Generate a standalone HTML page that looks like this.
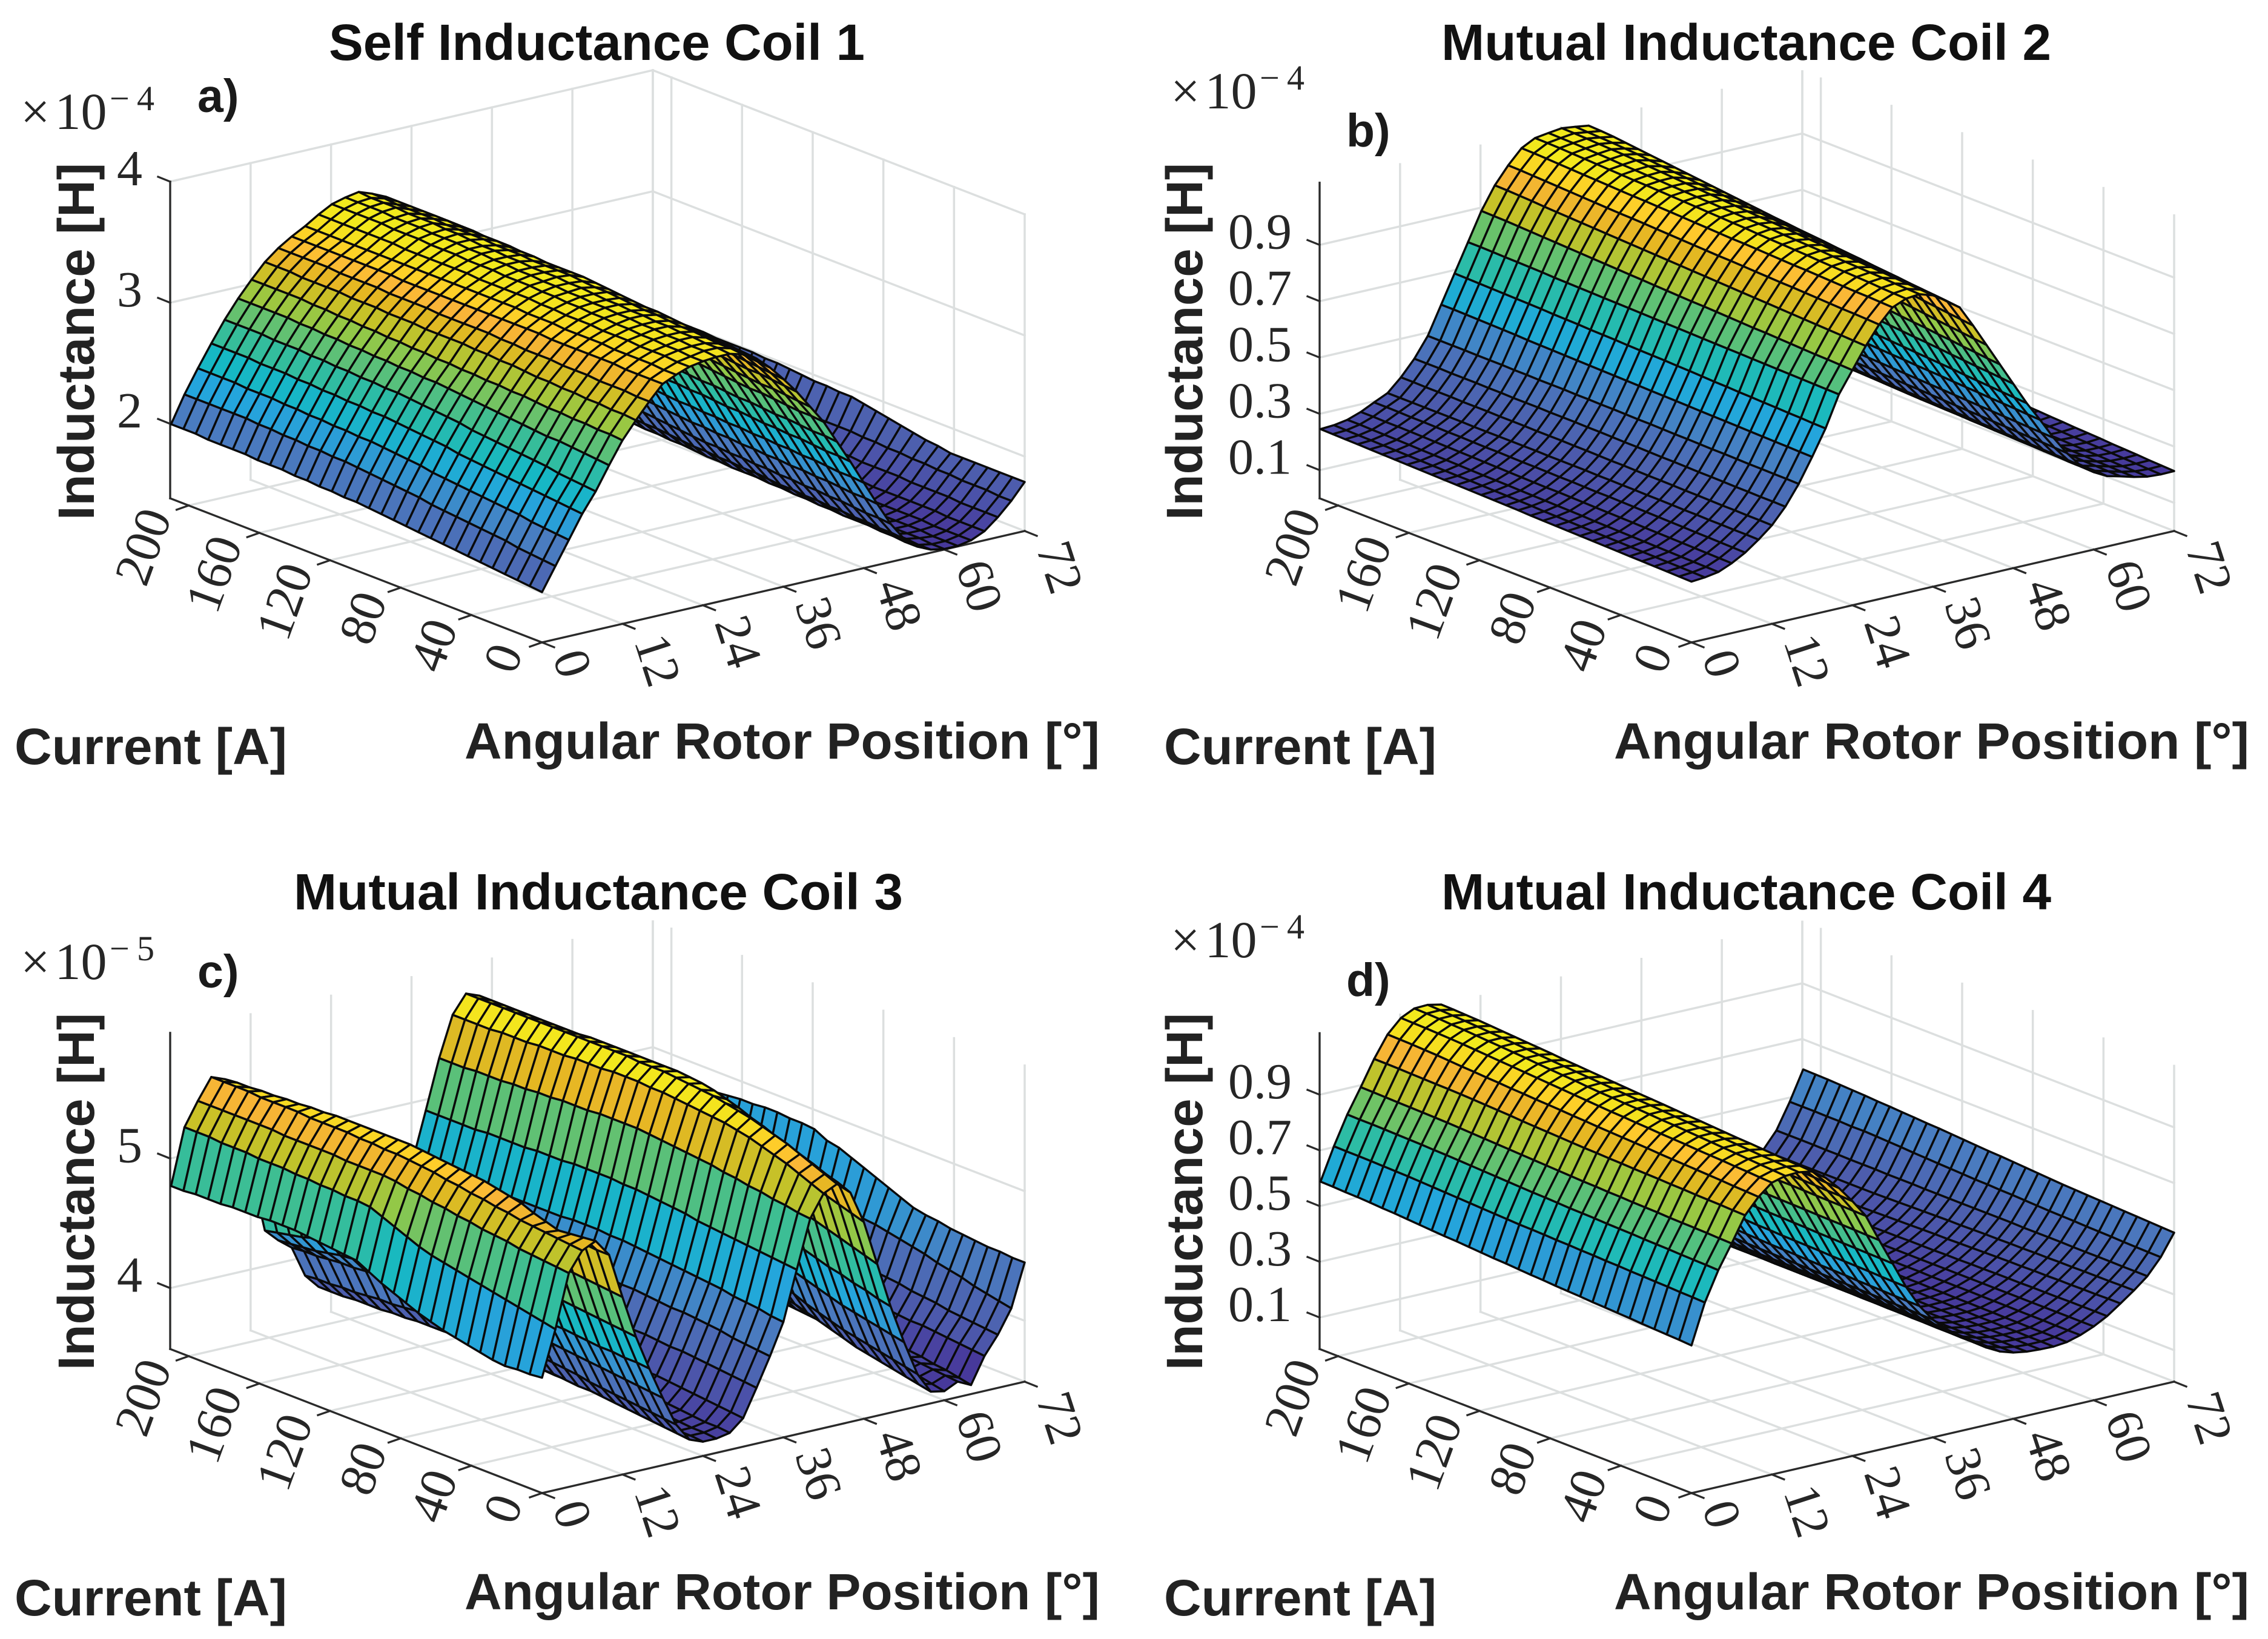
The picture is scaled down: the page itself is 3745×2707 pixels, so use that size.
<!DOCTYPE html>
<html lang="en">
<head>
<meta charset="utf-8">
<title>Inductance surfaces</title>
<style>
html,body{margin:0;padding:0;background:#fff}
svg{display:block}
.ttl{font-family:"Liberation Sans",sans-serif;font-weight:700;font-size:84px;fill:#111}
.lab{font-family:"Liberation Sans",sans-serif;font-weight:700;font-size:84px;fill:#222}
.tag{font-family:"Liberation Sans",sans-serif;font-weight:700;font-size:77px;fill:#1a1a1a}
.mag{font-family:"Liberation Serif",serif;font-size:86px;fill:#262626}
.exp{font-family:"Liberation Serif",serif;font-size:58px;fill:#262626}
.tick{font-family:"Liberation Serif",serif;font-size:84px;fill:#262626}
</style>
</head>
<body>
<svg id="fig" xmlns="http://www.w3.org/2000/svg" width="3745" height="2707" viewBox="0 0 3745 2707">
<rect x="0" y="0" width="3745" height="2707" fill="#ffffff"/>

<g id="panel-a">
<g class="plot"></g>
<text class="ttl" x="543" y="99" textLength="885" lengthAdjust="spacingAndGlyphs">Self Inductance Coil 1</text>
<text class="tag" x="326" y="185">a)</text>
<text class="mag" x="34" y="213">×<tspan dx="8">10</tspan></text>
<text class="exp" x="181" y="182" textLength="74">−4</text>
<text class="lab" transform="translate(155,859) rotate(-90)" textLength="590" lengthAdjust="spacingAndGlyphs">Inductance [H]</text>
<text class="lab" x="24" y="1262" textLength="450" lengthAdjust="spacingAndGlyphs">Current [A]</text>
<text class="lab" x="767" y="1253" textLength="1049" lengthAdjust="spacingAndGlyphs">Angular Rotor Position [°]</text>
</g>

<g id="panel-b">
<g class="plot"></g>
<text class="ttl" x="2380" y="99" textLength="1007" lengthAdjust="spacingAndGlyphs">Mutual Inductance Coil 2</text>
<text class="tag" x="2223" y="242">b)</text>
<text class="mag" x="1933" y="179">×<tspan dx="8">10</tspan></text>
<text class="exp" x="2080" y="148" textLength="74">−4</text>
<text class="lab" transform="translate(1985,859) rotate(-90)" textLength="590" lengthAdjust="spacingAndGlyphs">Inductance [H]</text>
<text class="lab" x="1922" y="1262" textLength="450" lengthAdjust="spacingAndGlyphs">Current [A]</text>
<text class="lab" x="2665" y="1253" textLength="1049" lengthAdjust="spacingAndGlyphs">Angular Rotor Position [°]</text>
</g>

<g id="panel-c">
<g class="plot"></g>
<text class="ttl" x="485" y="1502" textLength="1006" lengthAdjust="spacingAndGlyphs">Mutual Inductance Coil 3</text>
<text class="tag" x="326" y="1631">c)</text>
<text class="mag" x="34" y="1617">×<tspan dx="8">10</tspan></text>
<text class="exp" x="181" y="1586" textLength="74">−5</text>
<text class="lab" transform="translate(155,2263) rotate(-90)" textLength="590" lengthAdjust="spacingAndGlyphs">Inductance [H]</text>
<text class="lab" x="24" y="2668" textLength="450" lengthAdjust="spacingAndGlyphs">Current [A]</text>
<text class="lab" x="767" y="2658" textLength="1049" lengthAdjust="spacingAndGlyphs">Angular Rotor Position [°]</text>
</g>

<g id="panel-d">
<g class="plot"></g>
<text class="ttl" x="2380" y="1502" textLength="1007" lengthAdjust="spacingAndGlyphs">Mutual Inductance Coil 4</text>
<text class="tag" x="2223" y="1645">d)</text>
<text class="mag" x="1933" y="1581">×<tspan dx="8">10</tspan></text>
<text class="exp" x="2080" y="1550" textLength="74">−4</text>
<text class="lab" transform="translate(1985,2263) rotate(-90)" textLength="590" lengthAdjust="spacingAndGlyphs">Inductance [H]</text>
<text class="lab" x="1922" y="2668" textLength="450" lengthAdjust="spacingAndGlyphs">Current [A]</text>
<text class="lab" x="2665" y="2658" textLength="1049" lengthAdjust="spacingAndGlyphs">Angular Rotor Position [°]</text>
</g>
</svg>

<script>
// Grid of the measured surfaces
const angles = [0,2,4,6,8,10,12,14,16,18,20,22,24,26,28,30,32,34,36,38,40,42,44,46,48,50,52,54,56,58,60,62,64,66,68,70,72];
const currents = [0,7,14,21,28,35,42,49,56,63,70,77,84,91,98,105,112,119,126,133,140,147,154,161,168,175,182,189,196,203,210];
const angleTicks = [0,12,24,36,48,60,72];
const currentTicks = [0,40,80,120,160,200];
// z tick values in the units of each matrix below, with their printed labels
const zTicksA = [200,300,400];
const zTickLabelsA = ['2','3','4'];
const zTicksB = [100,300,500,700,900];
const zTickLabelsB = ['0.1','0.3','0.5','0.7','0.9'];
const zTicksC = [400,500];
const zTickLabelsC = ['4','5'];
const zTicksD = [100,300,500,700,900];
const zTickLabelsD = ['0.1','0.3','0.5','0.7','0.9'];

// Self inductance coil 1, microhenry. One row per current, one column per angle.
const surfaceA = [
[180,199,218,237,253,272,290,304,317,329,334,338,340,341,341,338,332,322,310,297,282,267,248,229,209,189,170,155,146,141,139,139,141,146,155,166,179],
[181,200,219,238,254,273,291,305,317,329,334,338,340,342,342,339,333,323,311,298,283,268,249,230,210,190,171,156,146,141,139,139,141,146,155,166,179],
[182,201,220,239,255,274,291,305,318,329,335,339,341,342,342,339,334,324,312,299,284,268,249,230,210,190,171,156,147,142,140,139,141,146,155,167,179],
[183,202,221,240,256,275,292,306,318,329,335,339,341,343,343,340,334,325,313,300,285,269,250,231,211,191,172,157,147,142,140,140,141,146,155,167,179],
[184,204,223,241,258,276,292,306,318,330,335,339,342,343,343,341,335,325,314,300,285,270,251,232,212,192,173,157,148,142,140,140,142,147,156,167,179],
[185,205,224,242,259,276,293,307,319,330,335,340,342,344,344,341,336,326,315,301,286,271,251,232,212,192,173,158,148,143,141,140,142,147,156,168,179],
[186,206,225,243,260,277,293,307,319,330,336,340,343,344,344,342,337,327,315,302,287,271,252,233,213,193,174,158,148,143,141,140,142,147,156,168,179],
[187,207,226,244,261,278,294,308,319,330,336,340,343,345,345,343,338,328,316,303,288,272,253,233,213,193,174,159,149,143,141,141,142,147,156,169,181],
[188,208,227,245,262,279,295,308,320,330,336,341,344,345,345,343,339,329,317,304,289,273,253,234,214,194,175,159,149,144,142,141,142,147,157,169,182],
[189,209,228,246,263,280,295,309,320,330,336,341,344,346,346,344,339,330,318,305,290,274,254,235,214,194,175,160,150,144,142,141,142,147,157,170,184],
[190,210,229,247,264,281,296,310,320,331,337,341,345,346,346,345,340,331,319,306,291,275,255,235,215,195,176,160,150,145,142,141,143,148,157,170,186],
[191,212,230,249,266,282,296,310,321,331,337,342,345,347,347,346,341,332,320,307,292,275,255,236,215,195,176,161,151,145,142,142,143,148,157,171,188],
[192,213,232,250,267,283,297,311,321,331,337,342,346,347,348,346,342,333,321,308,293,276,256,237,216,196,177,162,151,145,143,142,143,148,158,171,190],
[193,214,233,251,268,284,297,311,322,331,338,343,346,348,348,347,343,334,322,309,294,277,257,237,216,196,177,162,152,146,143,142,143,148,158,172,192],
[194,215,234,252,269,285,298,312,322,331,338,343,347,348,349,348,344,335,323,310,295,278,258,238,217,197,178,163,152,146,143,142,143,148,158,172,194],
[195,216,235,253,270,285,298,312,322,331,338,343,347,349,349,348,344,335,324,310,295,278,258,238,217,197,178,163,152,146,143,142,143,148,158,172,194],
[195,217,236,254,271,286,299,312,322,331,338,343,347,349,349,348,344,336,325,311,296,279,259,239,218,198,179,164,153,147,143,143,143,149,158,172,195],
[196,218,236,254,271,286,299,312,322,331,338,343,348,350,350,348,344,337,326,312,297,280,260,240,219,199,180,164,153,147,144,143,144,149,158,173,195],
[196,218,237,255,272,287,300,313,323,331,338,344,348,350,350,349,345,337,326,313,298,281,261,241,220,200,181,165,154,148,144,143,144,149,159,173,196],
[197,219,237,255,272,287,300,313,323,331,338,344,348,351,351,349,345,338,327,314,299,282,262,242,221,201,182,166,155,148,144,143,144,149,159,173,197],
[197,219,238,256,273,288,301,313,323,331,338,344,349,351,351,349,345,338,327,315,300,283,263,243,221,201,183,167,155,149,145,144,144,149,159,174,198],
[198,220,238,256,273,288,301,314,323,331,338,344,349,352,352,350,346,339,328,316,301,283,263,243,222,202,184,167,156,149,145,144,145,149,159,174,198],
[198,220,239,257,274,289,302,314,324,332,338,344,349,352,353,350,346,339,328,317,302,284,264,244,223,203,184,168,156,150,145,144,145,150,159,174,199],
[198,221,239,257,274,289,302,314,324,332,338,344,350,352,353,350,346,339,328,318,302,285,265,245,223,203,185,169,157,150,146,144,145,150,159,175,199],
[199,221,240,258,275,290,303,315,324,332,338,345,350,353,354,350,346,340,329,319,303,285,266,245,224,204,186,169,158,151,146,144,145,150,160,175,199],
[199,222,240,258,275,290,303,315,324,332,338,345,350,353,354,351,347,340,329,320,304,286,266,246,225,205,186,170,158,151,146,145,146,150,160,175,199],
[199,222,240,258,275,291,304,315,325,332,338,345,351,353,354,351,347,340,329,320,305,287,267,246,225,205,187,171,159,151,146,145,146,150,160,175,200],
[199,222,241,259,276,291,304,315,325,332,338,345,351,354,355,351,347,340,330,321,305,287,267,247,226,206,187,171,159,152,147,145,146,150,160,176,200],
[200,222,241,259,276,291,304,316,325,332,338,345,351,354,355,351,347,340,330,321,306,288,268,247,226,206,188,172,160,152,147,145,146,150,160,176,200],
[200,222,241,259,276,291,304,316,325,332,338,345,351,354,355,352,347,340,330,322,306,288,268,247,226,206,188,172,160,152,147,145,146,150,160,176,200],
[200,222,241,259,276,291,304,316,325,332,338,345,351,354,356,352,347,340,330,322,306,288,268,247,226,206,188,172,160,152,147,145,146,150,160,176,200]
];

// Mutual inductance coil 2, tenths of a microhenry
const surfaceB = [
[216,220,228,248,275,310,350,405,475,560,650,760,835,910,975,1025,1045,1050,1035,1005,970,895,815,735,655,575,505,430,365,310,275,250,238,225,215,212,213],
[217,221,229,249,276,311,351,406,476,561,651,761,837,912,977,1027,1047,1052,1038,1009,974,900,820,739,659,578,507,432,367,312,277,252,239,226,217,214,215],
[218,222,230,250,277,311,351,406,476,562,653,762,839,914,979,1029,1049,1054,1041,1012,979,905,825,744,663,581,510,434,369,313,278,253,241,228,218,216,217],
[219,223,231,251,278,312,352,407,477,563,654,763,840,916,980,1030,1052,1057,1044,1016,983,910,830,748,666,584,512,436,370,315,280,255,242,229,220,218,220],
[220,224,232,252,279,312,352,407,477,564,656,764,842,918,982,1032,1054,1059,1047,1020,987,915,835,753,670,587,514,438,372,317,281,257,244,231,222,220,222],
[221,225,233,253,280,313,353,408,478,565,657,765,844,920,984,1034,1056,1061,1050,1023,992,921,841,757,674,590,517,440,374,318,283,258,245,232,223,222,224],
[222,226,234,254,281,313,354,409,479,566,659,766,846,922,986,1036,1058,1063,1052,1027,996,926,846,762,678,594,519,442,376,320,284,260,247,234,225,223,227],
[223,227,235,255,282,314,354,409,479,567,660,767,848,924,988,1038,1060,1065,1055,1031,1000,931,851,766,682,597,521,444,378,322,286,262,248,235,227,225,229],
[224,228,236,256,283,315,355,410,480,568,662,768,849,926,989,1039,1063,1068,1058,1034,1005,936,856,770,685,600,524,446,379,323,287,263,250,237,228,227,231],
[225,229,237,257,284,315,356,411,481,569,663,769,851,928,991,1041,1065,1070,1061,1038,1009,941,861,775,689,603,526,448,381,325,289,265,251,238,230,229,234],
[226,230,238,258,285,316,356,411,481,570,665,770,853,930,993,1043,1067,1072,1064,1042,1013,946,866,779,693,606,528,450,383,327,290,267,253,240,232,231,236],
[227,231,240,259,286,316,357,412,482,571,667,771,855,932,995,1045,1069,1074,1067,1045,1018,951,871,784,697,609,531,452,385,328,292,268,254,242,234,233,239],
[228,232,241,260,286,317,358,413,483,572,668,772,857,934,997,1047,1071,1077,1070,1049,1022,956,877,788,701,612,533,454,387,330,293,270,256,243,235,235,241],
[229,233,242,261,287,317,358,413,483,573,670,773,858,936,998,1048,1074,1079,1073,1053,1026,961,882,793,704,615,535,456,388,332,295,272,257,245,237,237,243],
[231,235,243,262,288,318,359,414,484,574,671,774,860,938,1000,1050,1076,1081,1075,1056,1031,967,887,797,708,619,538,458,390,333,296,273,259,246,238,238,246],
[232,236,244,262,288,318,360,415,485,575,672,775,862,940,1002,1052,1078,1083,1078,1060,1035,972,892,802,712,622,540,460,392,335,298,275,260,248,240,240,248],
[233,237,245,263,289,318,360,415,485,576,673,776,864,942,1004,1054,1080,1085,1081,1064,1040,977,897,807,716,625,542,462,394,337,300,277,262,250,242,241,249],
[234,238,246,264,290,318,361,416,486,577,675,777,866,944,1006,1056,1082,1087,1084,1068,1045,982,902,811,720,628,545,464,396,339,302,279,264,251,243,242,250],
[235,239,247,265,290,319,361,416,486,578,676,778,868,946,1008,1058,1084,1089,1087,1072,1050,988,907,816,724,631,547,466,398,341,304,280,265,253,245,243,250],
[236,240,248,266,291,319,361,416,487,579,677,779,870,948,1010,1060,1086,1091,1090,1075,1055,993,913,821,728,634,549,468,400,343,306,282,267,254,246,244,251],
[237,240,249,267,292,319,362,417,487,580,679,780,872,950,1012,1062,1088,1093,1093,1079,1060,999,918,825,731,637,551,470,402,345,307,284,268,256,248,245,252],
[238,241,250,268,292,319,362,417,487,581,680,781,874,952,1013,1063,1090,1095,1096,1083,1065,1004,923,830,735,640,554,472,404,347,309,286,270,257,250,247,253],
[239,242,251,269,293,319,362,417,488,582,681,782,876,954,1015,1065,1091,1097,1099,1087,1070,1009,928,834,739,644,556,475,406,349,311,287,272,259,251,249,254],
[240,243,252,270,294,319,363,418,488,583,683,783,878,956,1017,1067,1093,1099,1102,1091,1075,1015,934,839,743,647,558,477,408,351,313,289,273,260,253,251,255],
[241,244,253,271,294,320,363,418,489,585,684,785,880,958,1019,1069,1095,1101,1106,1095,1080,1020,939,844,747,650,560,479,410,353,315,291,275,262,255,252,256],
[242,245,254,272,295,320,363,419,489,586,685,786,882,960,1021,1071,1097,1104,1109,1100,1085,1027,946,850,752,654,563,481,412,355,317,293,277,264,257,254,257],
[243,246,255,273,296,320,364,419,489,587,686,787,884,962,1023,1073,1099,1106,1111,1103,1090,1033,952,855,756,658,566,483,414,358,319,295,279,266,259,255,258],
[244,247,256,274,296,320,364,419,490,588,687,788,886,965,1025,1075,1101,1108,1113,1106,1095,1039,958,860,761,662,569,485,416,360,321,296,281,268,261,257,259],
[245,248,257,274,297,320,364,420,490,589,688,789,888,967,1027,1077,1103,1110,1115,1108,1100,1044,964,865,765,666,572,487,418,362,323,298,283,270,263,258,260],
[246,249,258,275,298,320,365,420,490,590,689,790,889,969,1029,1079,1104,1111,1117,1110,1103,1047,967,868,768,668,574,489,419,364,324,299,284,271,264,259,260],
[247,250,258,275,298,320,365,420,490,590,690,790,890,970,1030,1080,1105,1112,1118,1112,1105,1050,970,870,770,670,575,490,420,365,325,300,285,272,265,260,260]
];

// Mutual inductance coil 3, tenths of a microhenry
const surfaceC = [
[442,477,518,533,538,525,490,457,430,405,382,368,364,364,366,375,396,418,442,480,517,534,539,530,505,470,435,405,378,362,360,365,360,380,394,412,445],
[441,479,519,534,537,525,491,458,431,406,383,369,365,365,367,376,397,419,443,481,518,538,543,534,508,473,437,407,380,364,362,366,362,381,395,414,445],
[441,481,520,535,536,526,492,459,431,407,384,370,365,365,367,377,398,420,445,482,520,542,547,537,511,476,440,409,382,366,364,367,364,382,396,416,446],
[440,483,521,536,535,527,493,460,432,408,385,371,366,366,368,378,399,421,446,483,521,546,551,541,514,479,442,411,384,368,365,368,365,383,397,418,446],
[441,485,522,537,538,528,494,461,432,409,386,372,367,367,369,379,400,423,447,484,523,549,555,544,517,482,445,413,386,370,367,369,367,384,398,421,447],
[443,487,524,538,541,529,495,462,433,410,387,373,367,367,370,380,401,424,449,485,524,552,558,548,520,485,447,415,388,372,369,370,368,385,400,423,448],
[445,489,525,540,545,530,496,463,434,411,388,374,368,368,371,381,402,425,450,486,526,555,561,551,523,488,450,418,390,374,370,371,369,385,401,425,449],
[447,491,526,541,547,531,497,464,435,412,389,375,369,369,372,382,402,426,451,487,527,557,564,555,527,491,453,421,393,377,372,372,370,386,402,428,451],
[449,493,528,543,549,533,498,465,435,413,391,376,369,369,372,382,403,426,452,488,529,559,566,558,530,494,456,424,396,380,374,372,371,387,404,430,452],
[452,495,529,544,551,534,499,466,436,414,392,376,370,370,373,383,404,427,453,490,530,560,568,562,533,497,459,427,399,383,376,373,372,388,405,432,454],
[455,497,531,546,552,535,500,467,437,415,393,377,370,370,374,384,404,428,454,491,531,561,570,565,537,500,462,430,403,386,377,373,373,388,406,434,458],
[459,500,532,547,553,536,501,468,438,416,394,378,371,371,374,384,405,429,455,492,532,562,571,568,540,503,465,432,406,389,378,374,374,389,407,436,462],
[463,504,534,549,554,537,502,468,438,417,395,378,371,371,375,385,405,429,456,493,533,563,572,570,543,506,468,435,409,391,379,374,375,389,408,437,466],
[467,508,535,550,555,538,503,469,439,418,396,379,372,372,375,385,406,430,457,494,534,564,573,571,545,508,471,437,412,393,380,375,375,390,409,438,470],
[472,512,537,551,556,539,504,469,439,419,397,379,372,372,376,386,406,430,457,494,535,564,574,572,547,510,473,439,414,394,380,375,376,390,410,439,474],
[477,516,538,552,557,540,505,470,440,420,398,380,372,372,376,386,406,430,458,495,535,565,574,572,548,510,475,440,415,395,380,375,376,390,410,440,478],
[478,517,538,552,557,539,503,467,439,419,397,380,372,372,376,386,406,430,458,495,535,565,574,572,548,511,475,441,416,396,381,376,377,391,411,440,480],
[479,517,538,553,557,538,501,464,437,418,396,379,372,372,376,387,406,430,458,495,535,565,575,572,548,511,476,442,417,397,382,377,378,392,412,440,485],
[480,518,538,553,557,537,499,461,436,418,395,379,372,372,376,387,406,430,457,495,534,564,575,572,548,512,476,443,418,398,383,378,379,392,413,440,486],
[481,518,539,554,557,536,497,458,434,417,394,379,372,372,376,387,406,430,457,494,534,564,575,572,549,512,477,444,419,399,384,379,380,393,414,440,486],
[482,519,539,554,557,535,495,455,433,417,393,378,372,372,377,387,406,430,457,494,534,564,575,572,549,513,477,445,420,400,385,381,381,394,415,440,487],
[482,519,539,554,557,534,493,452,431,416,392,378,372,372,377,387,405,430,457,494,533,563,575,572,549,513,478,445,421,401,386,382,383,395,416,440,487],
[482,520,539,554,556,533,491,449,430,415,391,378,372,372,377,388,405,430,457,493,533,563,575,571,549,513,478,446,422,402,387,383,384,396,417,440,486],
[481,520,539,555,556,532,489,446,428,415,390,377,372,372,377,388,405,430,456,493,532,563,575,571,549,514,479,447,423,403,388,384,385,397,418,440,486],
[481,520,540,555,555,530,486,443,426,414,390,377,372,372,377,388,405,430,456,493,532,562,575,571,550,514,479,448,424,404,389,385,387,398,419,440,485],
[481,521,540,555,555,529,484,440,425,413,389,376,372,372,377,388,405,430,456,493,531,562,575,571,550,514,480,449,424,404,390,386,388,398,419,440,484],
[480,521,540,555,554,528,482,437,423,413,388,376,372,372,378,388,405,430,456,492,531,562,575,571,550,515,480,449,425,405,390,387,389,399,420,440,483],
[480,521,540,556,554,527,480,434,421,412,388,376,372,372,378,388,405,430,455,492,531,561,575,571,550,515,480,450,425,405,391,387,389,399,420,440,482],
[480,522,540,556,553,526,478,432,420,411,387,375,372,372,378,388,405,430,455,492,530,561,575,571,550,515,480,450,425,405,391,388,390,400,420,440,480],
[479,522,540,556,553,526,476,430,419,411,387,375,372,372,378,388,405,430,455,492,530,561,575,571,550,515,480,450,425,405,392,388,390,400,420,440,479],
[479,522,540,556,552,525,475,428,418,410,386,375,372,372,378,388,405,430,455,492,530,561,575,571,550,515,480,450,425,405,392,388,390,400,420,440,478]
];

// Mutual inductance coil 4, tenths of a microhenry
const surfaceD = [
[517,660,765,850,940,995,1035,1048,1050,1042,1008,960,902,838,740,645,550,470,410,365,330,300,265,240,225,217,214,213,218,232,252,278,312,348,388,445,522],
[520,662,767,851,941,997,1037,1051,1053,1045,1011,962,904,839,741,646,551,471,411,366,330,300,266,241,226,217,214,214,219,232,252,278,312,348,388,446,524],
[522,663,768,853,943,999,1040,1054,1056,1047,1013,964,905,840,742,647,552,472,412,367,331,300,266,241,226,218,215,214,219,232,252,278,311,347,388,447,526],
[524,665,769,854,944,1002,1042,1057,1058,1050,1016,966,907,841,743,648,554,473,413,368,331,301,267,242,227,218,215,215,219,233,252,278,311,347,389,448,528],
[526,666,771,855,945,1004,1045,1060,1061,1053,1018,968,908,842,744,649,555,474,414,369,332,301,267,242,227,218,215,215,220,233,252,277,310,347,389,450,530],
[529,668,772,856,947,1006,1047,1063,1064,1056,1021,970,910,843,745,650,556,475,415,370,332,301,268,243,228,219,216,216,220,233,252,277,310,346,389,451,532],
[531,669,773,858,948,1008,1049,1066,1067,1058,1023,972,911,844,746,651,557,477,416,370,332,301,268,243,228,219,216,216,221,234,252,277,309,346,389,452,534],
[533,671,775,859,950,1010,1052,1069,1070,1061,1026,974,913,844,747,653,559,478,417,371,333,301,269,244,229,220,217,217,221,234,252,276,309,345,390,454,536],
[535,672,776,860,951,1012,1054,1072,1072,1064,1028,976,914,845,748,654,560,479,418,372,333,301,269,244,229,220,217,217,222,234,252,276,308,345,390,455,538],
[538,674,777,862,952,1015,1056,1075,1075,1067,1031,978,916,846,749,655,561,480,419,372,333,302,270,245,229,220,217,218,222,235,252,276,308,344,390,456,540],
[540,675,779,863,954,1017,1059,1077,1078,1069,1033,980,917,847,750,656,562,482,420,373,334,302,270,245,230,221,218,218,223,235,252,275,307,344,390,458,543],
[542,677,780,865,955,1019,1061,1080,1081,1072,1036,982,919,848,751,658,564,483,421,374,334,302,271,246,230,221,218,219,223,235,252,275,306,343,391,460,546],
[545,678,781,866,957,1021,1064,1083,1084,1075,1038,984,920,848,752,659,565,484,422,374,334,302,271,247,231,221,218,219,224,235,252,274,305,343,391,462,549],
[547,680,783,868,958,1023,1066,1085,1086,1078,1041,986,922,849,753,660,567,486,423,375,335,302,272,248,231,222,219,220,224,236,252,274,304,342,391,463,552],
[550,681,785,870,960,1026,1069,1088,1089,1080,1043,988,923,850,754,661,568,488,424,375,335,302,272,248,232,222,219,220,225,236,252,273,303,341,391,465,555],
[553,682,786,872,962,1028,1072,1090,1092,1083,1046,990,924,850,755,662,570,490,425,375,335,302,272,249,232,222,219,220,225,236,252,273,303,341,391,466,557],
[555,684,788,874,964,1031,1075,1093,1095,1086,1049,992,926,851,756,663,571,491,426,376,335,302,273,249,233,223,220,221,226,237,252,273,302,340,391,468,560],
[558,686,790,876,966,1033,1078,1097,1098,1089,1052,995,928,852,758,664,572,493,427,377,336,303,273,250,233,223,220,221,226,237,252,272,301,339,391,470,563],
[561,688,792,878,968,1035,1081,1100,1101,1092,1055,997,930,853,759,666,573,494,428,378,336,303,274,250,234,224,221,222,226,237,252,272,300,338,391,472,566],
[564,690,794,880,971,1038,1084,1103,1104,1095,1058,1000,932,854,761,667,574,495,429,378,336,303,274,251,234,224,221,222,227,238,252,271,299,337,392,474,569],
[566,692,796,882,973,1040,1087,1106,1107,1098,1061,1002,934,855,762,668,576,497,430,379,337,303,275,252,235,225,222,223,227,238,252,271,298,336,392,476,571],
[569,694,798,884,975,1043,1090,1110,1110,1102,1064,1004,936,856,763,670,577,498,431,380,337,304,275,252,235,225,222,223,228,238,252,270,297,335,392,479,574],
[572,696,800,886,977,1045,1093,1113,1114,1105,1067,1007,938,857,765,671,578,500,432,380,338,304,276,253,236,226,223,223,228,239,252,270,296,335,393,481,576],
[575,698,801,888,979,1048,1096,1116,1117,1108,1070,1009,940,858,766,673,580,501,434,381,338,304,276,254,237,226,223,224,229,239,252,269,296,335,393,483,579],
[578,700,803,889,980,1050,1099,1119,1120,1111,1073,1011,941,859,767,674,582,503,435,382,339,304,277,255,237,227,224,224,229,239,252,269,295,335,393,485,581],
[580,701,804,890,981,1053,1102,1122,1123,1114,1075,1013,942,859,768,676,584,504,436,383,339,304,278,256,238,227,224,225,230,239,252,269,295,335,394,484,584],
[583,702,805,891,982,1056,1104,1125,1126,1117,1078,1015,943,860,769,677,585,505,437,383,339,305,278,256,238,227,225,225,230,240,252,268,295,335,394,486,586],
[585,703,806,892,983,1058,1106,1127,1129,1120,1080,1017,944,860,769,678,587,507,438,384,340,305,279,257,239,228,225,225,231,240,252,268,295,335,395,486,588],
[586,704,807,893,984,1060,1108,1130,1131,1122,1082,1018,945,860,770,679,588,508,439,384,340,305,279,257,239,228,225,226,231,240,252,268,295,335,395,487,590],
[588,704,807,894,985,1061,1109,1132,1133,1124,1084,1019,945,860,770,680,589,509,440,385,340,305,280,258,240,228,225,226,232,240,252,268,295,335,395,487,591],
[589,705,808,895,985,1062,1110,1133,1135,1125,1085,1020,945,860,770,680,590,510,440,385,340,305,280,258,240,228,225,226,232,240,252,268,295,335,395,487,592]
];

const NS = 'http://www.w3.org/2000/svg';
const colormapStops = [0,.06,.14,.28,.383,.47,.55,.63,.69,.746,.806,.843,.875,.917,.96,1];
const colormapRgb = [[71,57,155],[75,79,168],[77,95,174],[74,124,192],[36,165,220],[22,184,196],[52,189,156],[100,193,112],[148,200,70],[198,194,40],[229,183,34],[249,181,56],[255,203,43],[245,224,30],[242,234,29],[242,234,29]];

function colorFor(p){
  const t = Math.max(0, Math.min(1, p));
  let i = 0;
  while (i < colormapStops.length - 2 && t > colormapStops[i + 1]) i++;
  const f = (t - colormapStops[i]) / (colormapStops[i + 1] - colormapStops[i]);
  const a = colormapRgb[i], b = colormapRgb[i + 1];
  return 'rgb(' + [0,1,2].map(function(n){ return Math.round(a[n] + (b[n] - a[n]) * f); }).join(',') + ')';
}

function addEl(parent, tag, name){
  const el = document.createElementNS(NS, tag);
  
  
  parent.appendChild(el);
  return el;
}

function seg(parent, name, p, q, color, width){
  const l = addEl(parent, 'line', name);
  l.setAttribute('x1', p[0]); l.setAttribute('y1', p[1]);
  l.setAttribute('x2', q[0]); l.setAttribute('y2', q[1]);
  l.setAttribute('stroke', color);
  l.setAttribute('stroke-width', width);
  l.setAttribute('stroke-linecap', 'square');
}

function tickText(parent, name, str, x, y, rot, anchor){
  const t = addEl(parent, 'text', name);
  t.setAttribute('class', 'tick');
  t.setAttribute('text-anchor', anchor);
  if (rot) {
    t.setAttribute('dominant-baseline', 'central');
    t.setAttribute('transform', 'translate(' + x + ',' + y + ') rotate(' + rot + ')');
  } else {
    t.setAttribute('x', x);
    t.setAttribute('y', y);
  }
  t.textContent = str;
}

function drawPanel(id, matrix, zTicks, zLabels, dx, dy, zFloor, pxPerZ, zTop, labelDrop){
  const root = document.querySelector('#' + id + ' .plot');
  const aMax = 72, cMax = 210.5;
  const F = [895 + dx, 1061 + dy];
  const aVec = [797, -184];
  const cVec = [-614, -238];
  const axisAngle = function(a){ return a / aMax; };
  const axisCurrent = function(c){ return c / cMax; };
  const axisZ = function(z){ return (z - zFloor) * pxPerZ; };
  const P = function(a, c, z){
    const u = axisAngle(a), v = axisCurrent(c);
    return [F[0] + u * aVec[0] + v * cVec[0], F[1] + u * aVec[1] + v * cVec[1] - axisZ(z)];
  };
  const GRID = '#dcdfdf', GW = 3.5, AX = '#2a2a2a', AW = 3.3;

  // walls and floor grid
  angleTicks.forEach(function(a){
    seg(root, 'floor-gridline-angle', P(a,0,zFloor), P(a,cMax,zFloor), GRID, GW);
    seg(root, 'back-wall-gridline-angle', P(a,cMax,zFloor), P(a,cMax,zTop), GRID, GW);
  });
  currentTicks.forEach(function(c){
    seg(root, 'floor-gridline-current', P(0,c,zFloor), P(aMax,c,zFloor), GRID, GW);
    seg(root, 'side-wall-gridline-current', P(aMax,c,zFloor), P(aMax,c,zTop), GRID, GW);
  });
  seg(root, 'back-corner-line', P(aMax,cMax,zFloor), P(aMax,cMax,zTop), GRID, GW);
  zTicks.forEach(function(z){
    seg(root, 'back-wall-gridline-z', P(0,cMax,z), P(aMax,cMax,z), GRID, GW);
    seg(root, 'side-wall-gridline-z', P(aMax,cMax,z), P(aMax,0,z), GRID, GW);
  });

  // axes
  seg(root, 'z-axis-line', P(0,cMax,zFloor), P(0,cMax,zTop), AX, AW);
  seg(root, 'current-axis-line', P(0,cMax,zFloor), P(0,0,zFloor), AX, AW);
  seg(root, 'angle-axis-line', P(0,0,zFloor), P(aMax,0,zFloor), AX, AW);
  zTicks.forEach(function(z, i){
    const p = P(0,cMax,z);
    seg(root, 'z-tick', p, [p[0]-20, p[1]-8], AX, AW);
    tickText(root, 'z-tick-label', zLabels[i], p[0]-46, p[1]+labelDrop, 0, 'end');
  });
  currentTicks.forEach(function(c){
    const p = P(0,c,zFloor);
    seg(root, 'current-tick', p, [p[0]-20, p[1]+7], AX, AW);
    const s = String(c);
    const ox = s.length === 3 ? -75 : s.length === 2 ? -62 : -64;
    const oy = s.length === 3 ? 68 : s.length === 2 ? 50 : 26;
    tickText(root, 'current-tick-label', s, p[0]+ox, p[1]+oy, -70, 'middle');
  });
  angleTicks.forEach(function(a){
    const p = P(a,0,zFloor);
    seg(root, 'angle-tick', p, [p[0]+20, p[1]+8], AX, AW);
    const s = String(a);
    tickText(root, 'angle-tick-label', s, p[0]+(s.length === 1 ? 50 : 58), p[1]+(s.length === 1 ? 35 : 60), 72, 'middle');
  });

  // surface, far cells first; each cell takes the colour of its first vertex
  let lo = Infinity, hi = -Infinity;
  matrix.forEach(function(row){ row.forEach(function(v){ if (v < lo) lo = v; if (v > hi) hi = v; }); });
  const mesh = addEl(root, 'g', 'surface-mesh');
  mesh.setAttribute('stroke', '#0a0a0a');
  mesh.setAttribute('stroke-width', '3.5');
  mesh.setAttribute('stroke-linejoin', 'round');
  for (let k = currents.length - 2; k >= 0; k--) {
    for (let j = angles.length - 2; j >= 0; j--) {
      const z00 = matrix[k][j], z01 = matrix[k][j+1], z10 = matrix[k+1][j], z11 = matrix[k+1][j+1];
      const pts = [P(angles[j],currents[k],z00), P(angles[j+1],currents[k],z01), P(angles[j+1],currents[k+1],z11), P(angles[j],currents[k+1],z10)];
      const cell = addEl(mesh, 'polygon', 'surface-cell');
      cell.setAttribute('points', pts.map(function(q){ return q[0].toFixed(1) + ',' + q[1].toFixed(1); }).join(' '));
      cell.setAttribute('fill', colorFor((z00 - lo) / (hi - lo)));
    }
  }
}

drawPanel('panel-a', surfaceA, zTicksA, zTickLabelsA, 0, 0, 138.5, 2, 400, 6);
drawPanel('panel-b', surfaceB, zTicksB, zTickLabelsB, 1898, 0, 0, 0.465, 1121, 6);
drawPanel('panel-c', surfaceC, zTicksC, zTickLabelsC, 0, 1405, 353, 2.14, 597, 6);
drawPanel('panel-d', surfaceD, zTicksD, zTickLabelsD, 1898, 1405, -13, 0.46, 1121, 6);
</script>
</body>
</html>
